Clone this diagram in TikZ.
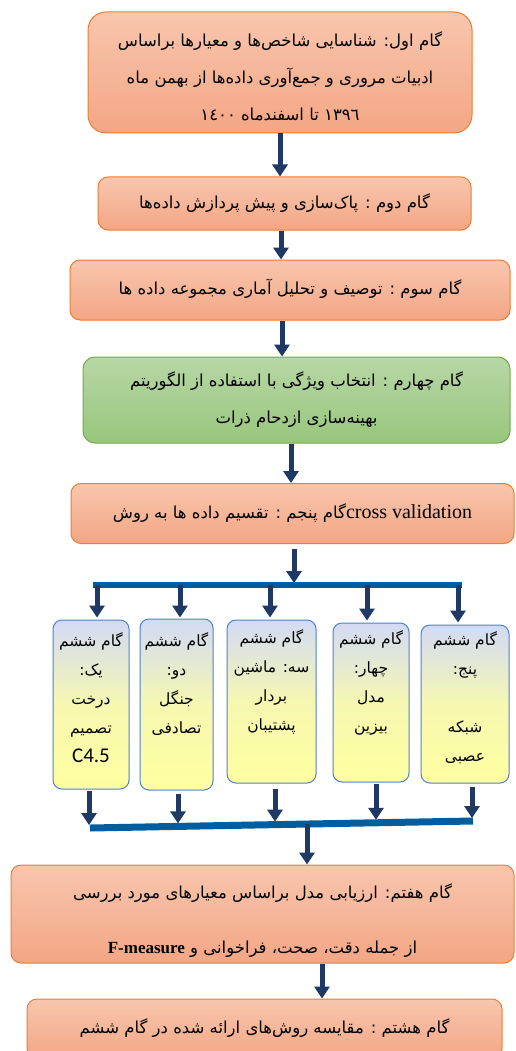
\documentclass[tikz,border=0pt]{standalone}
\usepackage{fontspec}
\setmainfont{Liberation Serif}
\newfontfamily\persian[Script=Arabic]{DejaVu Sans}
\newfontfamily\calib{Carlito}
\TeXXeTstate=1
\usetikzlibrary{arrows.meta}
\newcommand\rtlline[1]{\beginR #1\endR}
\newcommand\liftup{\\[-15pt]\mbox{}}
\definecolor{navy}{RGB}{31,56,100}
\definecolor{barblue}{RGB}{0,94,160}
\definecolor{orl}{RGB}{248,198,174}
\definecolor{ord}{RGB}{243,166,132}
\definecolor{orb}{RGB}{237,125,49}
\definecolor{grl}{RGB}{183,215,166}
\definecolor{grd}{RGB}{152,198,124}
\definecolor{grb}{RGB}{112,173,71}
\definecolor{bll}{RGB}{210,218,245}
\definecolor{yel}{RGB}{255,255,160}
\definecolor{blb}{RGB}{79,129,209}
\begin{document}
\begin{tikzpicture}[x=1pt,y=-1pt,
  obox/.style={draw=orb, line width=1pt, rounded corners=10pt, top color=orl, bottom color=ord, inner sep=0pt, align=center, font=\persian\fontsize{16.5}{37}\selectfont},
  gbox/.style={draw=grb, line width=1pt, rounded corners=12pt, top color=grl, bottom color=grd, inner sep=0pt, align=center, font=\persian\fontsize{16.5}{37}\selectfont},
  sbox/.style={draw=blb, line width=1pt, rounded corners=9pt, top color=bll, bottom color=yel, middle color=yel!80!bll, inner sep=0pt, align=center, font=\persian\fontsize{15.5}{29}\selectfont},
  arr/.style={draw=navy, line width=5pt, -{Triangle[width=15pt,length=12pt]}},
  bar/.style={draw=barblue, line width=6pt}]
\clip (0,0) rectangle (515,1051);
\fill[white] (0,0) rectangle (515,1051);

\node[obox, rounded corners=18pt, minimum width=384, minimum height=121] (s1) at (280,72.5)
  {\mbox{}\\[-15pt]
   \rtlline{گام اول: شناسایی شاخص‌ها و معیارها براساس}\\
   \rtlline{ادبیات مروری و جمع‌آوری داده‌ها از بهمن ماه}\\
   \rtlline{١٣٩٦ تا اسفندماه ١٤٠٠}};
\node[obox, minimum width=373, minimum height=53] (s2) at (284.5,203.5)
  {\raisebox{3pt}{\rtlline{گام دوم : پاک‌سازی و پیش پردازش داده‌ها}}};
\node[obox, minimum width=440, minimum height=60] (s3) at (290,290)
  {\raisebox{6pt}{\rtlline{گام سوم : توصیف و تحلیل آماری مجموعه داده ها}}};
\node[gbox, minimum width=427, minimum height=86] (s4) at (296.5,400)
  {\rtlline{گام چهارم : انتخاب ویژگی با استفاده از الگوریتم}\\
   \rtlline{بهینه‌سازی ازدحام ذرات}};
\node[obox, minimum width=443, minimum height=60] (s5) at (292.5,513.5)
  {\raisebox{5pt}{\rtlline{گام پنجم : تقسیم داده ها به روش}{\rmfamily\fontsize{20}{22}\selectfont cross validation}}};

\node[sbox, minimum width=76, minimum height=169] (b1) at (91,704.5)
  {\rtlline{گام ششم}\\ \rtlline{یک:}\\ \rtlline{درخت}\\ \rtlline{تصمیم}\\ {\calib\fontsize{21}{29}\selectfont C4.5}\liftup};
\node[sbox, minimum width=73, minimum height=171] (b2) at (176.5,704.5)
  {\rtlline{گام ششم}\\ \rtlline{دو:}\\ \rtlline{جنگل}\\ \rtlline{تصادفی}\\ \mbox{}\liftup};
\node[sbox, minimum width=89, minimum height=163] (b3) at (271.5,701.5)
  {\rtlline{گام ششم}\\ \rtlline{سه: ماشین}\\ \rtlline{بردار}\\ \rtlline{پشتیبان}\\ \mbox{}\liftup};
\node[sbox, minimum width=76, minimum height=159] (b4) at (371,702.5)
  {\rtlline{گام ششم}\\ \rtlline{چهار:}\\ \rtlline{مدل}\\ \rtlline{بیزین}\\ \mbox{}\liftup};
\node[sbox, minimum width=88, minimum height=158] (b5) at (465,704)
  {\rtlline{گام ششم}\\ \rtlline{پنج:}\\ \mbox{}\\ \rtlline{شبکه}\\ \rtlline{عصبی}\liftup};

\node[obox, minimum width=503, minimum height=98] (s7) at (262.5,914)
  {\mbox{}\\[-8pt]
   \rtlline{گام هفتم: ارزیابی مدل براساس معیارهای مورد بررسی}\\[18pt]
   \rtlline{از جمله دقت، صحت، فراخوانی و \beginL{\rmfamily\bfseries\fontsize{17}{19}\selectfont F-measure}\endL}};
\node[obox, minimum width=475, minimum height=60] (s8) at (264.5,1029)
  {\raisebox{6pt}{\rtlline{گام هشتم : مقایسه روش‌های ارائه شده در گام ششم}}};

% main chain arrows
\draw[arr] (s1.south) -- (s1.south |- s2.north);
\draw[arr] ([xshift=-3.5pt]s2.south) -- ([xshift=-3.5pt]s2.south |- s3.north);
\draw[arr] ([xshift=-8pt]s3.south) -- ([xshift=-8pt]s3.south |- s4.north);
\draw[arr] ([xshift=-5.5pt]s4.south) -- ([xshift=-5.5pt]s4.south |- s5.north);

% split bar
\coordinate (tl) at (93,585);
\coordinate (tr) at (462,585);
\draw[arr] ([xshift=1.5pt,yshift=-5pt]s5.south) -- ([xshift=1.5pt,yshift=2pt]s5.south |- tl);
\draw[bar] (tl) -- (tr);
\draw[arr] ([xshift=6pt]b1.north |- tl) -- ([xshift=6pt,yshift=2pt]b1.north);
\draw[arr] ([xshift=3.5pt]b2.north |- tl) -- ([xshift=3.5pt,yshift=1pt]b2.north);
\draw[arr] ([xshift=-1.5pt]b3.north |- tl) -- ([xshift=-1.5pt,yshift=2pt]b3.north);
\draw[arr] ([xshift=-4pt]b4.north |- tl) -- ([xshift=-4pt,yshift=2pt]b4.north);
\draw[arr] ([xshift=-7pt]b5.north |- tl) -- ([xshift=-7pt,yshift=2pt]b5.north);

% merge bar
\coordinate (bl) at (90,828);
\coordinate (br) at (473,821);
\path (bl) -- (br)
  coordinate[pos=0] (m1) coordinate[pos=0.2298] (m2) coordinate[pos=0.483] (m3)
  coordinate[pos=0.7467] (m4) coordinate[pos=0.9974] (m5) coordinate[pos=0.5666] (m0);
\draw[arr] ([xshift=-2pt,yshift=-1pt]b1.south) -- ([xshift=-2pt,yshift=3pt]b1.south |- m1);
\draw[arr] ([xshift=1.5pt,yshift=-3pt]b2.south) -- ([xshift=1.5pt,yshift=3pt]b2.south |- m2);
\draw[arr] ([xshift=3.5pt,yshift=-5pt]b3.south) -- ([xshift=3.5pt,yshift=3pt]b3.south |- m3);
\draw[arr] ([xshift=5pt,yshift=-1pt]b4.south) -- ([xshift=5pt,yshift=3pt]b4.south |- m4);
\draw[arr] ([xshift=7pt,yshift=-3pt]b5.south) -- ([xshift=7pt,yshift=3pt]b5.south |- m5);
\draw[draw=barblue, line width=7pt] (bl) -- (br);
\draw[arr] (m0) -- (m0 |- s7.north);
\draw[arr] ([xshift=59.5pt]s7.south) -- ([xshift=59.5pt]s7.south |- s8.north);
\end{tikzpicture}
\end{document}
